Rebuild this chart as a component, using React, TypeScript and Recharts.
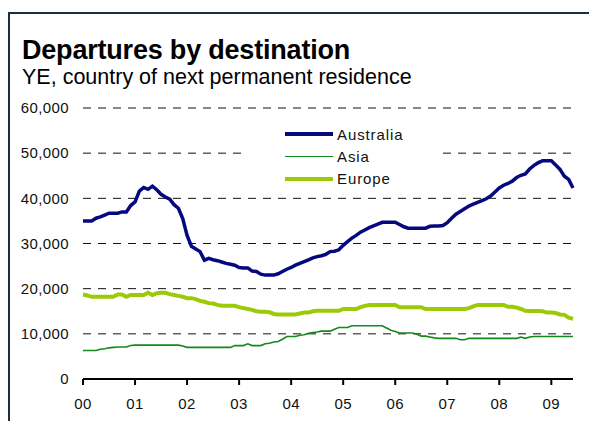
import React from "react";
import { LineChart, Line, XAxis, YAxis, CartesianGrid } from "recharts";

// monthly, Jan 2000 .. Jun 2009, thousands of people (year ended)
const yearLabels = ["00", "01", "02", "03", "04", "05", "06", "07", "08", "09"];

const australia = [
  35.0, 35.0, 35.0, 35.6, 35.9, 36.3, 36.7, 36.7, 36.7, 37.0,
  37.0, 38.4, 39.2, 41.6, 42.4, 42.0, 42.7, 41.9, 40.9, 40.3,
  39.8, 38.6, 37.8, 35.5, 31.8, 29.4, 28.8, 28.2, 26.3, 26.7,
  26.4, 26.2, 25.9, 25.6, 25.4, 25.2, 24.7, 24.6, 24.6, 23.9,
  23.8, 23.2, 23.0, 23.0, 23.0, 23.3, 23.8, 24.3, 24.7, 25.2,
  25.6, 26.0, 26.4, 26.8, 27.1, 27.3, 27.6, 28.2, 28.3, 28.6,
  29.6, 30.4, 31.2, 31.8, 32.5, 33.0, 33.5, 33.9, 34.3, 34.7,
  34.7, 34.7, 34.7, 34.2, 33.7, 33.4, 33.4, 33.4, 33.4, 33.4,
  33.8, 33.9, 33.9, 34.0, 34.6, 35.6, 36.5, 37.1, 37.7, 38.3,
  38.7, 39.1, 39.5, 39.9, 40.5, 41.4, 42.3, 42.9, 43.3, 43.8,
  44.6, 45.1, 45.4, 46.5, 47.3, 47.9, 48.3, 48.3, 48.3, 47.4,
  46.4, 44.9, 44.2, 42.3,
];

const asia = [
  6.3, 6.3, 6.3, 6.3, 6.6, 6.7, 6.9, 7.0, 7.1, 7.1,
  7.1, 7.4, 7.5, 7.5, 7.5, 7.5, 7.5, 7.5, 7.5, 7.5,
  7.5, 7.5, 7.5, 7.3, 7.0, 7.0, 7.0, 7.0, 7.0, 7.0,
  7.0, 7.0, 7.0, 7.0, 7.0, 7.4, 7.4, 7.4, 7.8, 7.4,
  7.4, 7.4, 7.8, 7.9, 8.2, 8.3, 8.8, 9.4, 9.4, 9.4,
  9.7, 9.8, 10.1, 10.3, 10.4, 10.6, 10.6, 10.6, 11.0, 11.4,
  11.4, 11.4, 11.8, 11.8, 11.8, 11.8, 11.8, 11.8, 11.8, 11.8,
  11.3, 10.8, 10.5, 10.2, 10.2, 10.2, 10.2, 9.9, 9.5, 9.5,
  9.3, 9.1, 9.0, 9.0, 9.0, 9.0, 9.0, 8.7, 8.7, 9.0,
  9.0, 9.0, 9.0, 9.0, 9.0, 9.0, 9.0, 9.0, 9.0, 9.0,
  9.0, 9.3, 9.0, 9.3, 9.4, 9.4, 9.4, 9.4, 9.4, 9.4,
  9.4, 9.4, 9.4, 9.4,
];

const europe = [
  18.7, 18.5, 18.2, 18.2, 18.2, 18.2, 18.2, 18.2, 18.7, 18.7,
  18.2, 18.6, 18.6, 18.6, 18.6, 19.1, 18.6, 19.0, 19.1, 19.1,
  18.8, 18.6, 18.4, 18.2, 17.9, 17.9, 17.7, 17.3, 17.1, 16.8,
  16.7, 16.4, 16.2, 16.2, 16.2, 16.2, 15.9, 15.7, 15.5, 15.3,
  15.0, 14.9, 14.9, 14.8, 14.4, 14.3, 14.3, 14.3, 14.3, 14.3,
  14.5, 14.7, 14.7, 15.0, 15.1, 15.1, 15.1, 15.1, 15.1, 15.1,
  15.5, 15.5, 15.5, 15.5, 15.9, 16.2, 16.4, 16.4, 16.4, 16.4,
  16.4, 16.4, 16.4, 15.9, 15.9, 15.9, 15.9, 15.9, 15.9, 15.5,
  15.5, 15.5, 15.5, 15.5, 15.5, 15.5, 15.5, 15.5, 15.5, 15.7,
  16.1, 16.4, 16.4, 16.4, 16.4, 16.4, 16.4, 16.4, 16.0, 16.0,
  15.8, 15.5, 15.1, 15.05, 15.05, 15.05, 15.0, 14.7, 14.7, 14.6,
  14.3, 14.2, 13.6, 13.3,
];

const yTicks = [0, 10, 20, 30, 40, 50, 60];

const series = [
  { key: "australia", name: "Australia", color: "#05087e", width: 3.5 },
  { key: "asia", name: "Asia", color: "#13891a", width: 1.6 },
  { key: "europe", name: "Europe", color: "#9bcb07", width: 4 },
];

const data = australia.map((v, i) => ({
  m: i,
  australia: v,
  asia: asia[i],
  europe: europe[i],
}));

const FONT = '"Liberation Sans", Arial, sans-serif';

// white box sitting over the 50,000 gridline, like the original
function LegendBox() {
  return (
    <div style={{ position: "absolute", left: 248, top: 118, width: 190, height: 72, background: "#fff" }}>
      {series.map((s, i) => (
        <div
          key={s.key}
          style={{
            position: "absolute",
            left: 37,
            top: 6 + i * 22.3,
            display: "flex",
            alignItems: "center",
            height: 20,
          }}
        >
          <div style={{ width: 48, height: s.width, background: s.color }} />
          <span
            style={{
              marginLeft: 4,
              fontFamily: FONT,
              fontSize: 15,
              letterSpacing: 0.9,
              color: "#111",
            }}
          >
            {s.name}
          </span>
        </div>
      ))}
    </div>
  );
}

export default function App() {
  return (
    <div style={{ position: "absolute", left: 0, top: 0, width: 589, height: 421, background: "#fff", overflow: "hidden" }}>
      <div
        style={{
          position: "absolute",
          left: 8,
          top: 12,
          right: 0,
          bottom: 0,
          borderTop: "2px solid #1b2e42",
          borderLeft: "2px solid #1b2e42",
        }}
      />
      <div
        style={{
          position: "absolute",
          left: 22,
          top: 37,
          fontFamily: FONT,
          fontWeight: "bold",
          fontSize: 27,
          lineHeight: 1,
          letterSpacing: -0.2,
          color: "#000",
          whiteSpace: "nowrap",
        }}
      >
        Departures by destination
      </div>
      <div
        style={{
          position: "absolute",
          left: 22,
          top: 67,
          fontFamily: FONT,
          fontSize: 21.5,
          lineHeight: 1,
          color: "#000",
          whiteSpace: "nowrap",
        }}
      >
        YE, country of next permanent residence
      </div>
      <div style={{ position: "absolute", left: 0, top: 0 }}>
        <LineChart
          width={589}
          height={421}
          data={data}
          margin={{ top: 108, right: 16, bottom: 0, left: 0 }}
        >
          <CartesianGrid vertical={false} stroke="#111" strokeDasharray="8 7" />
          <XAxis
            type="number"
            dataKey="m"
            domain={[0, australia.length - 1]}
            ticks={yearLabels.map((_, i) => i * 12)}
            tickFormatter={(v: number) => yearLabels[v / 12]}
            height={42}
            axisLine={{ stroke: "#000", strokeWidth: 2 }}
            tickLine={{ stroke: "#000", strokeWidth: 2 }}
            tickSize={6}
            tickMargin={13}
            tick={{ fill: "#111", fontSize: 15, fontFamily: FONT, letterSpacing: 0.4 }}
          />
          <YAxis
            domain={[0, 60]}
            ticks={yTicks}
            width={83}
            axisLine={false}
            tickLine={false}
            tickMargin={8}
            tickFormatter={(v: number) => (v * 1000).toLocaleString("en-US")}
            tick={{ fill: "#111", fontSize: 15, fontFamily: FONT, letterSpacing: 0.4 }}
          />
          {series.map((s) => (
            <Line
              key={s.key}
              type="linear"
              dataKey={s.key}
              name={s.name}
              stroke={s.color}
              strokeWidth={s.width}
              dot={false}
              activeDot={false}
              isAnimationActive={false}
            />
          ))}
        </LineChart>
      </div>
      <LegendBox />
    </div>
  );
}
